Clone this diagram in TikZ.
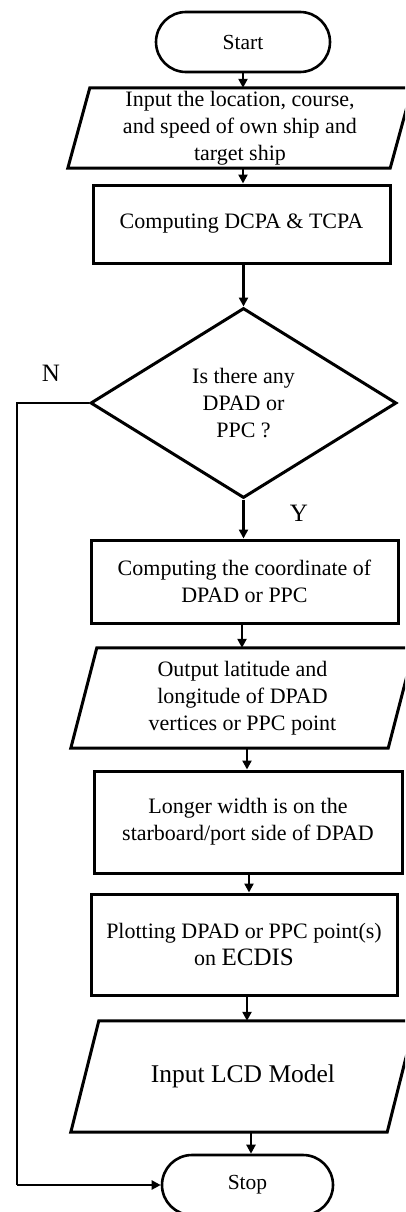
\documentclass[tikz,border=0pt]{standalone}
\usepackage{fontspec}
\setmainfont{Liberation Serif}
\usetikzlibrary{shapes.geometric,arrows.meta,calc}
\newcommand\drawpar[2]{\draw[shapeline] (#1.south west) -- ($(#1.north west)+(#2,0)$) -- (#1.north east) -- ($(#1.south east)-(#2,0)$) -- cycle;}
\begin{document}
\begin{tikzpicture}[x=1pt,y=-1pt,
  shapeline/.style={line width=3pt,line join=miter},
  txt/.style={inner sep=0pt,align=center,font=\fontsize{22}{27}\selectfont},
  box/.style={txt,draw,shapeline},
  io/.style={txt},
  term/.style={txt,draw,line width=2.6pt,rounded corners=30pt,minimum height=60pt,font=\fontsize{21.5}{26}\selectfont},
  decision/.style={txt,draw,shapeline,diamond},
  arr/.style={line width=2.6pt,-{Triangle[length=9pt,width=9pt]}},
  lbl/.style={inner sep=0pt,font=\fontsize{25}{30}\selectfont}]
\useasboundingbox (0,0) rectangle (405,1212);
\clip (0,0) rectangle (405,1212);

\node[term,minimum width=174pt] (start) at (243,42) {Start};
\node[io,minimum width=344pt,minimum height=80pt] (in1) at (240,128) {Input the location, course,\\and speed of own ship and\\target ship};
\drawpar{in1}{22}
\node[box,minimum width=297pt,minimum height=78pt] (dcpa) at (241.5,224) {Computing DCPA \& TCPA};
\node[decision,minimum width=306pt,minimum height=190pt] (dec) at (243.5,403) {Is there any\\DPAD or\\PPC ?};
\node[box,minimum width=307pt,minimum height=83pt] (comp) at (244.5,581.5) {Computing the coordinate of\\DPAD or PPC};
\node[io,minimum width=343pt,minimum height=100pt] (out) at (242.5,698) {Output latitude and\\longitude of DPAD\\vertices or PPC point};
\drawpar{out}{26}
\node[box,minimum width=308pt,minimum height=102pt] (long) at (248,822) {Longer width is on the\\starboard/port side of DPAD};
\node[box,minimum width=306pt,minimum height=101pt] (plot) at (244,944.5) {Plotting DPAD or PPC point(s)\\on {\fontsize{25}{27}\selectfont ECDIS}};
\node[io,minimum width=344pt,minimum height=111pt,font=\fontsize{25.5}{30}\selectfont] (lcd) at (243,1076.5) {Input LCD Model};
\drawpar{lcd}{28}
\node[term,minimum width=171pt] (stop) at (247.5,1185) {Stop};

\node[lbl] (nlab) at (51,373) {N};
\node[lbl] (ylab) at (299,513) {Y};

\coordinate (c1) at (17,403);
\coordinate (c2) at (17,1185);

\draw[arr] (start.south) -- (start.south |- in1.north);
\draw[arr] (in1.south -| start.south) -- (start.south |- dcpa.north);
\draw[arr] (dcpa.south -| dec.north) -- (dec.north);
\draw[arr] (dec.south) -- (dec.south |- comp.north);
\draw[arr] (comp.south -| 242,0) -- (242,0 |- out.north);
\draw[arr] (out.south -| 247,0) -- (247,0 |- long.north);
\draw[arr] (long.south -| 249,0) -- (249,0 |- plot.north);
\draw[arr] (plot.south -| 247,0) -- (247,0 |- lcd.north);
\draw[arr] (lcd.south -| 251,0) -- (251,0 |- stop.north);
\draw[line width=2.6pt,line join=miter] (dec.west) -- (c1) -- (c2);
\draw[arr] (c2) -- (stop.west);
\end{tikzpicture}
\end{document}
